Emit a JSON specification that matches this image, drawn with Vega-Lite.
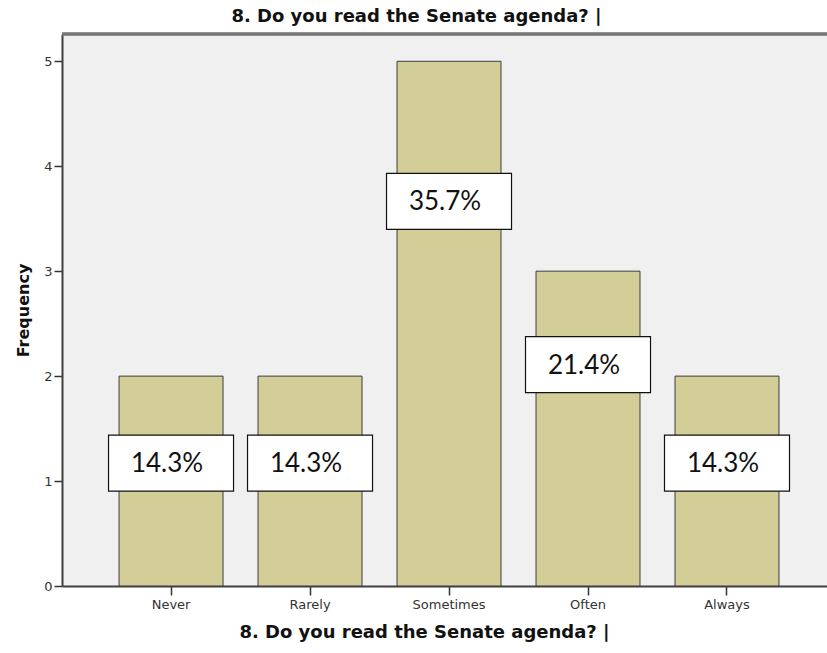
{
  "$schema": "https://vega.github.io/schema/vega-lite/v6.json",
  "autosize": {"type": "none"},
  "padding": {"left": 62, "top": 34, "right": 0, "bottom": 67},
  "width": 765,
  "height": 552,
  "background": "white",
  "config": {
    "view": {"stroke": null, "fill": "#f0f0f0"},
    "font": "DejaVu Sans",
    "axis": {
      "grid": false,
      "titleFont": "DejaVu Sans",
      "titleFontWeight": "bold",
      "titleColor": "#111111",
      "labelFont": "DejaVu Sans",
      "labelFontSize": 13,
      "labelColor": "#333333",
      "tickColor": "#333333",
      "tickWidth": 1.5,
      "domainColor": "#404040",
      "domainWidth": 2
    },
    "axisX": {
      "labelAngle": 0,
      "labelPadding": 3,
      "tickSize": 9,
      "titleFontSize": 18,
      "titlePadding": 12,
      "titleX": 362
    },
    "axisY": {
      "labelPadding": 2,
      "tickSize": 8,
      "tickCount": 5,
      "tickMinStep": 1,
      "titleFontSize": 16,
      "titlePadding": 12
    }
  },
  "title": {
    "text": "8. Do you read the Senate agenda? |",
    "font": "DejaVu Sans",
    "fontSize": 18,
    "fontWeight": "bold",
    "color": "#111111",
    "anchor": "middle",
    "dx": -28,
    "offset": 7
  },
  "data": {
    "values": [
      {"answer": "Never", "frequency": 2, "percent": "14.3%", "label_at": 1.17},
      {"answer": "Rarely", "frequency": 2, "percent": "14.3%", "label_at": 1.17},
      {"answer": "Sometimes", "frequency": 5, "percent": "35.7%", "label_at": 3.665},
      {"answer": "Often", "frequency": 3, "percent": "21.4%", "label_at": 2.11},
      {"answer": "Always", "frequency": 2, "percent": "14.3%", "label_at": 1.17}
    ]
  },
  "layer": [
    {
      "mark": {"type": "bar", "fill": "#d3ce97", "stroke": "#3c3c3c", "strokeWidth": 1},
      "encoding": {
        "x": {
          "field": "answer",
          "type": "nominal",
          "title": "8. Do you read the Senate agenda? |",
          "sort": ["Never", "Rarely", "Sometimes", "Often", "Always"],
          "scale": {"paddingInner": 0.252, "paddingOuter": 0.378, "align": 0.543}
        },
        "y": {
          "field": "frequency",
          "type": "quantitative",
          "title": "Frequency",
          "scale": {"domain": [0, 5.26], "nice": false}
        }
      }
    },
    {
      "mark": {"type": "rule", "stroke": "#767676", "strokeWidth": 2.5},
      "encoding": {"y": {"datum": 5.26, "type": "quantitative", "title": "Frequency"}}
    },
    {
      "mark": {
        "type": "point",
        "shape": "M-1,-0.448L1,-0.448L1,0.448L-1,0.448Z",
        "size": 15625,
        "filled": true,
        "fill": "white",
        "fillOpacity": 1,
        "opacity": 1,
        "stroke": "#111111",
        "strokeWidth": 1.2
      },
      "encoding": {
        "x": {
          "field": "answer",
          "type": "nominal",
          "title": "8. Do you read the Senate agenda? |",
          "sort": ["Never", "Rarely", "Sometimes", "Often", "Always"]
        },
        "y": {"field": "label_at", "type": "quantitative", "title": "Frequency"}
      }
    },
    {
      "mark": {"type": "text", "font": "Lato", "fontSize": 26, "color": "#111111", "baseline": "middle", "dx": -4, "dy": 1},
      "encoding": {
        "x": {
          "field": "answer",
          "type": "nominal",
          "title": "8. Do you read the Senate agenda? |",
          "sort": ["Never", "Rarely", "Sometimes", "Often", "Always"]
        },
        "y": {"field": "label_at", "type": "quantitative", "title": "Frequency"},
        "text": {"field": "percent"}
      }
    }
  ]
}
